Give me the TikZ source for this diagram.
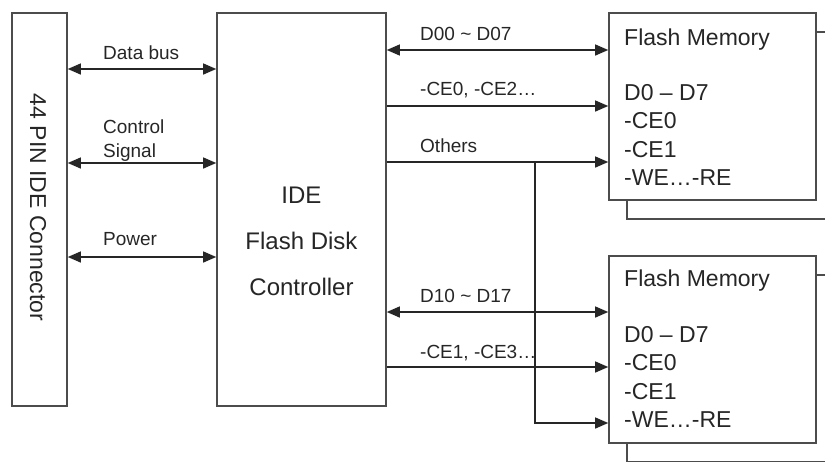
\documentclass[tikz,border=0pt]{standalone}
\usepackage{fontspec}
\setmainfont{Liberation Sans}
\usetikzlibrary{positioning,arrows.meta,calc}

\begin{document}
\begin{tikzpicture}[
    x=1pt, y=-1pt,
    box/.style={draw=black!70, line width=1.6pt, fill=white, inner sep=0pt},
    wire/.style={draw=black!85, line width=1.3pt},
    tip/.style={-{Triangle[length=13pt,width=11pt]}},
    bothtip/.style={{Triangle[length=13pt,width=11pt]}-{Triangle[length=13pt,width=11pt]}},
    lbl/.style={anchor=base west, inner sep=0pt, font=\fontsize{19}{24}\selectfont, text=black!85},
    memtext/.style={anchor=north west, align=left, inner sep=0pt, font=\fontsize{23}{28.5}\selectfont, text=black!85},
  ]
  \useasboundingbox (0,0) rectangle (825,461);

  % connector and controller
  \node[box, minimum width=55pt, minimum height=393pt] (conn) at (39.5,209.5) {};
  \node[rotate=-90, font=\fontsize{23}{28}\selectfont, text=black!85] (connname) at (38,207.5) {44 PIN IDE Connector};
  \node[box, minimum width=169pt, minimum height=393pt] (ctrl) at (301.5,209.5) {};
  \node[align=center, font=\fontsize{24}{46}\selectfont, text=black!85] (ctrlname) at (301.5,241) {IDE\\Flash Disk\\Controller};

  % flash memories (with the second sheet behind)
  \node[box, minimum width=207pt, minimum height=187pt] (mem1back) at (730.5,125.5) {};
  \node[box, minimum width=207pt, minimum height=187pt] (mem1) at (712.5,106.5) {};
  \node[box, minimum width=207pt, minimum height=187pt] (mem2back) at (730.5,368.5) {};
  \node[box, minimum width=207pt, minimum height=187pt] (mem2) at (712.5,349.5) {};
  \node[memtext, anchor=base west] (mem1title) at (624,45) {Flash Memory};
  \node[memtext] (mem1pins) at (624,84) {D0 -- D7\\-CE0\\-CE1\\-WE…-RE};
  \node[memtext, anchor=base west] (mem2title) at (624,286) {Flash Memory};
  \node[memtext] (mem2pins) at (624,326) {D0 -- D7\\-CE0\\-CE1\\-WE…-RE};

  % host side
  \draw[wire, bothtip] (conn.east |- 0,69) -- (ctrl.west |- 0,69);
  \draw[wire, bothtip] (conn.east |- 0,163) -- (ctrl.west |- 0,163);
  \draw[wire, bothtip] (conn.east |- 0,257) -- (ctrl.west |- 0,257);
  \node[lbl] (databus) at (103,59) {Data bus};
  \node[lbl, anchor=south west, align=left] (ctrlsig) at (103,161.5) {Control\\Signal};
  \node[lbl] (power) at (103,245) {Power};

  % flash side
  \draw[wire, bothtip] (ctrl.east |- 0,50) -- (mem1.west |- 0,50);
  \draw[wire, tip] (ctrl.east |- 0,106) -- (mem1.west |- 0,106);
  \draw[wire, tip] (ctrl.east |- 0,162) -- (mem1.west |- 0,162);
  \coordinate (split) at (535,162);
  \draw[wire, tip] (split) -- (split |- 0,423) -- (mem2.west |- 0,423);
  \draw[wire, bothtip] (ctrl.east |- 0,312) -- (mem2.west |- 0,312);
  \draw[wire, tip] (ctrl.east |- 0,367) -- (mem2.west |- 0,367);
  \node[lbl] (bus0) at (420,40) {D00 \textasciitilde{} D07};
  \node[lbl] (ce0) at (420,95) {-CE0, -CE2…};
  \node[lbl] (others) at (420,152) {Others};
  \node[lbl] (bus1) at (420,302) {D10 \textasciitilde{} D17};
  \node[lbl] (ce1) at (420,358) {-CE1, -CE3…};
\end{tikzpicture}
\end{document}
